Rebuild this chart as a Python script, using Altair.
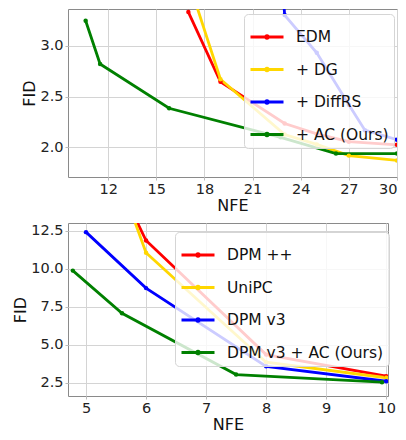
import altair as alt
import pandas as pd

# ---------- top panel data ----------
top_series = ["EDM", "+ DG", "+ DiffRS", "+ AC (Ours)"]
top_colors = ["#ff0000", "#ffd700", "#0000ff", "#008000"]
edm_x = [17, 19, 23, 25, 27, 30]
edm_y = [3.33, 2.645, 2.235, 2.133, 2.057, 2.026]
dg_x = [17, 19, 23, 25, 27, 30]
dg_y = [3.64, 2.67, 2.127, 2.03, 1.92, 1.873]
diffrs_x = [22, 23, 25, 27, 28, 30]
diffrs_y = [5.5, 3.30, 2.93, 2.42, 2.17, 2.076]
ac_x = [10.6, 11.5, 15.8, 22.75, 26.2, 30]
ac_y = [3.245, 2.82, 2.385, 2.10, 1.94, 1.94]
top_xticks = [12, 15, 18, 21, 24, 27, 30]
top_yticks = [2.0, 2.5, 3.0]

# ---------- bottom panel data ----------
bot_series = ["DPM ++", "UniPC", "DPM v3", "DPM v3 + AC (Ours)"]
bot_colors = ["#ff0000", "#ffd700", "#0000ff", "#008000"]
dpmpp_x = [5, 6, 8, 10]
dpmpp_y = [20.0, 11.85, 4.35, 2.93]
unipc_x = [5, 6, 8, 10]
unipc_y = [21.9, 11.05, 3.85, 2.83]
dpmv3_x = [5, 6, 8, 10]
dpmv3_y = [12.4, 8.72, 3.58, 2.6]
dpmv3ac_x = [4.78, 5.6, 7.5, 9.93]
dpmv3ac_y = [9.87, 7.07, 3.04, 2.54]
bot_xticks = [5, 6, 7, 8, 9, 10]
bot_yticks = [2.5, 5.0, 7.5, 10.0, 12.5]


def frame(names, xs, ys):
    rows = []
    for i, (n, xx, yy) in enumerate(zip(names, xs, ys)):
        for a, b in zip(xx, yy):
            rows.append({"method": n, "NFE": a, "FID": b, "k": i})
    return pd.DataFrame(rows)


top_df = frame(top_series, [edm_x, dg_x, diffrs_x, ac_x], [edm_y, dg_y, diffrs_y, ac_y])
bot_df = frame(bot_series, [dpmpp_x, unipc_x, dpmv3_x, dpmv3ac_x],
               [dpmpp_y, unipc_y, dpmv3_y, dpmv3ac_y])

SYMBOL = "M-1,0L1,0M-0.07,0A0.07,0.07 0 1,1 0.07,0A0.07,0.07 0 1,1 -0.07,0"


def panel(df, names, colors, xdom, ydom, xticks, yticks, w, h, lx, ly):
    legend = alt.Legend(
        title=None, orient="none", legendX=lx, legendY=ly,
        symbolType=SYMBOL, symbolSize=1089, symbolStrokeWidth=3,
        labelFontSize=15.5, labelFont="DejaVu Sans", labelColor="#111",
        labelOffset=11, rowPadding=5.5, padding=5,
        fillColor="rgba(255,255,255,0.8)", strokeColor="#d5d5d5",
        cornerRadius=4,
    )
    return alt.Chart(df).mark_line(
        clip=True, strokeWidth=2.8,
        point=alt.OverlayMarkDef(filled=True, size=20, clip=True),
    ).encode(
        x=alt.X("NFE:Q", scale=alt.Scale(domain=xdom, nice=False, zero=False),
                axis=alt.Axis(values=xticks, title="NFE", format="d")),
        y=alt.Y("FID:Q", scale=alt.Scale(domain=ydom, nice=False, zero=False),
                axis=alt.Axis(values=yticks, title="FID", format=".1f")),
        color=alt.Color("method:N", sort=names,
                        scale=alt.Scale(domain=names, range=colors),
                        legend=legend),
        order=alt.Order("k:Q"),
    ).properties(width=w, height=h)


top = panel(top_df, top_series, top_colors, [9.5, 30], [1.71, 3.36],
            top_xticks, top_yticks, 329, 168, 176, 5)
bot = panel(bot_df, bot_series, bot_colors, [4.7, 10.03], [1.63, 13.0],
            bot_xticks, bot_yticks, 320, 173, 107, 9)

chart = alt.vconcat(
    alt.hconcat(top), alt.hconcat(bot), spacing=8
).resolve_scale(
    color="independent"
).resolve_legend(
    color="independent"
).properties(
    padding={"left": 4, "top": 0, "right": 0, "bottom": 0}
).configure_view(
    stroke="#8a8a8a", strokeWidth=1
).configure_axis(
    labelFont="DejaVu Sans", titleFont="DejaVu Sans",
    labelFontSize=14.5, titleFontSize=16, titleFontWeight="normal",
    labelColor="#222", titleColor="#111",
    grid=True, gridColor="#d4d4d4", gridWidth=1,
    domain=False, tickColor="#bbbbbb", tickSize=3, labelPadding=2,
    titlePadding=2,
)

chart.save("out.html", embed_options={"renderer": "svg", "actions": False})
